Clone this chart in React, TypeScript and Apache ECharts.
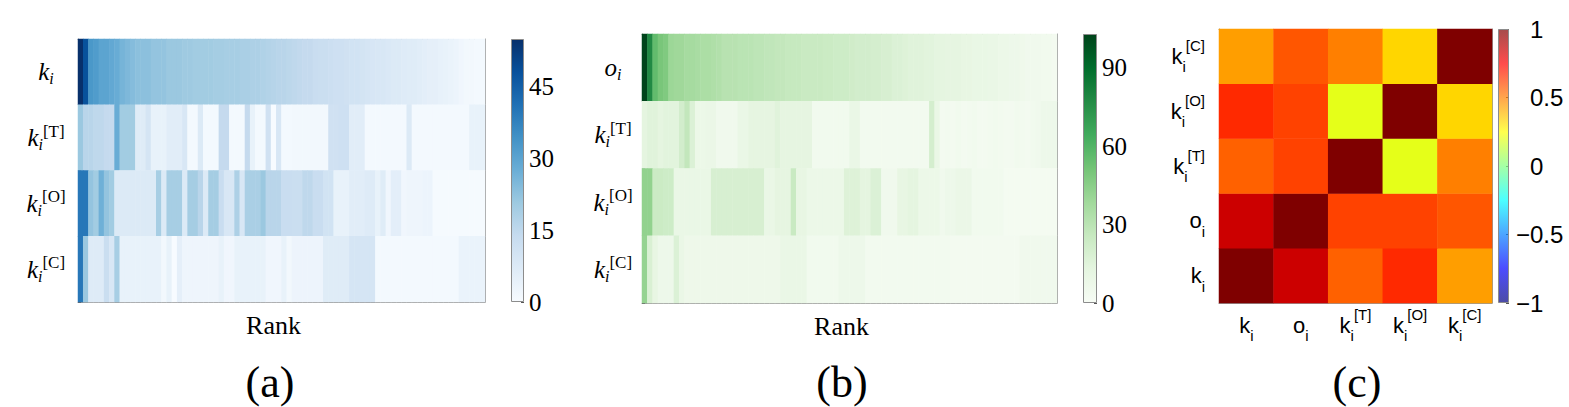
import React, { useEffect, useRef } from 'react';
import * as echarts from 'echarts';

const SERIF = "'Liberation Serif', 'DejaVu Serif', serif";
const SANS = "'Liberation Sans', Arial, sans-serif";

// ---------- Panel (a): degree heat map ----------
const rowsA = ['k', 'kT', 'kO', 'kC'];
const aK = [55, 48, 33, 32, 30, 30, 29, 28, 26, 25,
  24, 23, 23, 23, 22, 22, 22, 21, 21, 21,
  20.5, 20.5, 20, 20, 20, 20, 19.5, 19.5, 19, 19,
  19, 18.5, 18.5, 18, 18, 17.5, 17, 16.5, 16, 16,
  15.5, 15, 14.5, 14, 14, 13, 12.5, 12.5, 12, 11.5,
  11.5, 11, 10.5, 10.5, 10, 9.5, 9, 8.5, 8.5, 8,
  7.5, 7.5, 7, 6.5, 6.5, 6, 5.5, 5, 5, 4.5,
  4, 3.5, 3, 2, 1.5, 1.5, 1, 1];
const aKT = [21, 16, 16, 15, 15, 14, 14, 28, 20, 20,
  20, 6.5, 6.5, 9.5, 4, 4, 4, 6, 6, 6,
  8.5, 1, 1, 7.5, 1, 1, 1, 14, 14, 1,
  1, 1, 14, 4, 1, 1, 11, 0, 8.5, 1,
  1, 1.5, 1.5, 1.5, 1.5, 1.5, 1.5, 1.5, 11, 11,
  11.5, 11.5, 6, 6, 6, 1, 1, 1, 1, 1,
  1, 1, 1, 7.5, 1, 1, 1, 1, 1, 1,
  1, 1, 1, 1, 1, 4, 4, 4];
const aKO = [40, 40, 22, 20, 27, 22, 20, 7.5, 7.5, 7.5,
  7.5, 7.5, 7.5, 7.5, 7.5, 19, 7.5, 19, 19, 19,
  7.5, 19.5, 19.5, 16, 7.5, 19.5, 19.5, 13, 8.5, 8.5,
  18, 8.5, 18.5, 18.5, 18.5, 21, 16, 16, 16, 13,
  13, 12.5, 12.5, 15, 15, 13, 13, 10.5, 10.5, 4,
  4, 4, 6, 6, 6, 7, 7, 4, 6.5, 2,
  5.5, 5.5, 2, 2.5, 2.5, 2.5, 3, 3, 0.5, 0.5,
  0.5, 0.5, 0.5, 0.5, 0.5, 0.5, 0.5, 0.5];
const aKC = [40, 21, 7, 7, 7, 12.5, 8.5, 19, 4, 4,
  4, 4, 4, 4, 4, 4, 1.5, 4, 0, 5,
  2.5, 2.5, 2.5, 2.5, 2.5, 2.5, 2.5, 4, 2, 2,
  4, 4, 4, 4, 4, 4, 2, 2, 2, 4,
  1.5, 2.8, 2.8, 2.8, 2.8, 2.8, 2.8, 6.5, 6.5, 6.5,
  6.5, 6.5, 9.5, 9.5, 9.5, 9.5, 9.5, 1, 1, 1,
  1, 1, 1, 1, 1, 1, 1, 1, 1, 1,
  1, 1, 1, 3.5, 3.5, 3.5, 3.5, 3.5];
const maxA = 55;
const ticksA = 15;

// ---------- Panel (b): strength heat map ----------
const rowsB = ['o', 'kT', 'kO', 'kC'];
const bO = [103, 78, 56, 50, 48, 40, 39, 39, 37, 37,
  36, 35, 35, 34, 33, 31, 31, 31, 30, 30,
  30, 29, 29, 28, 28, 27, 27, 26, 26, 26,
  25, 25, 25, 25, 24, 24, 23, 23, 23, 22,
  21, 21, 21, 20, 20, 19, 19, 17, 17, 16,
  15, 15, 15, 14, 14, 13, 13, 12, 12, 12,
  11, 11, 10, 10, 10, 9, 9, 8, 8, 7,
  7, 6, 5, 5, 5, 4, 4, 3];
const bKT = [13, 15, 15, 13, 14, 14, 14, 21, 27, 17,
  8, 8, 8.5, 8.5, 5, 5, 5, 5, 9, 9,
  12, 12, 12, 12, 12, 15, 12, 12, 12, 12,
  12, 12, 4, 4, 4, 4, 4, 4, 4, 9,
  9, 3.5, 3.5, 3.5, 3.5, 3.5, 3.5, 3.5, 3.5, 3.5,
  3.5, 3.5, 3.5, 3.5, 20, 9, 3, 3.5, 3, 4,
  3, 3.5, 4, 3, 3, 3.5, 4, 3.5, 3, 3,
  4, 3.5, 3, 4.5, 5, 7, 7, 7];
const bKO = [43, 43, 24, 24, 23, 23, 9, 9, 9, 9,
  9, 9, 9, 19, 19, 19, 19, 19, 19, 19,
  19, 19, 19, 9, 9, 12, 12, 12, 25, 11,
  11, 8, 8, 8, 8, 8, 8, 8, 16, 16,
  16, 13, 13, 17, 17, 5, 5, 5, 11, 11,
  13, 13, 8, 8, 8, 8, 5, 7, 7, 8.5,
  8.5, 8.5, 4, 4, 4, 4, 4, 4, 2.5, 2.5,
  2.5, 2.5, 2.5, 2.5, 2.5, 2.5, 2.5, 2.5];
const bKC = [42, 18, 11, 7, 7, 7, 17, 9, 6.5, 6.5,
  6.5, 6.5, 6.5, 6.5, 6.5, 6.5, 6.5, 6.5, 6.5, 6.5,
  6.5, 6.5, 6.5, 6.5, 6.5, 6.5, 9, 9, 9, 9,
  9, 4.5, 4.5, 4.5, 4.5, 4.5, 4.5, 7, 7, 7,
  7, 7, 3.5, 3.5, 3.5, 3.5, 3.5, 3.5, 3.5, 3.5,
  3.5, 3.5, 3.5, 3.5, 3.5, 3.5, 3.5, 3.5, 3, 3,
  3, 3, 3, 3, 3, 3, 3, 3, 3, 3,
  3, 5, 5, 5, 5, 5, 5, 5];
const maxB = 103;
const ticksB = 30;

// ---------- Panel (c): correlation matrix ----------
const corrLabels = ['k', 'o', 'kT', 'kO', 'kC'];
const corrMatrix = [
  [1.0, 0.85, 0.56, 0.67, 0.44],
  [0.85, 1.0, 0.62, 0.62, 0.58],
  [0.56, 0.62, 1.0, 0.2, 0.5],
  [0.67, 0.62, 0.2, 1.0, 0.33],
  [0.44, 0.58, 0.5, 0.33, 1.0],
];

const ranks = aK.map((_, i) => String(i + 1));

const BLUES = ['#f7fbff', '#deebf7', '#c6dbef', '#9ecae1', '#6baed6', '#4292c6', '#2171b5', '#08519c', '#08306b'];
const GREENS = ['#f7fcf5', '#e5f5e0', '#c7e9c0', '#a1d99b', '#74c476', '#41ab5d', '#238b45', '#006d2c', '#00441b'];
const JET = ['#00007f', '#0000ff', '#007fff', '#00ffff', '#7fff7f', '#ffff00', '#ff7f00', '#ff0000', '#7f0000'];

const hexToRgba = (h: string, a: number) => {
  const r = parseInt(h.slice(1, 3), 16);
  const g = parseInt(h.slice(3, 5), 16);
  const b = parseInt(h.slice(5, 7), 16);
  return `rgba(${r},${g},${b},${a})`;
};
const gradient = (cols: string[], alpha = 1) =>
  new echarts.graphic.LinearGradient(0, 1, 0, 0,
    cols.map((c, i) => ({ offset: i / (cols.length - 1), color: alpha < 1 ? hexToRgba(c, alpha) : c })));

const serifLabels: Record<string, string> = {
  k: '{it|k}{sub|i}',
  o: '{it|o}{sub|i}',
  kT: '{it|k}{sub|i}{sup|[T]}',
  kO: '{it|k}{sub|i}{sup|[O]}',
  kC: '{it|k}{sub|i}{sup|[C]}',
};
const serifRich = {
  it: { fontFamily: SERIF, fontStyle: 'italic', fontSize: 25, lineHeight: 30, color: '#000' },
  sub: { fontFamily: SERIF, fontStyle: 'italic', fontSize: 16, lineHeight: 16, verticalAlign: 'bottom', color: '#000' },
  sup: { fontFamily: SERIF, fontSize: 17, lineHeight: 20, verticalAlign: 'top', color: '#000' },
};
const sansLabels: Record<string, string> = {
  k: '{m|k}{sub|i}',
  o: '{m|o}{sub|i}',
  kT: '{m|k}{sub|i}{sup|[T]}',
  kO: '{m|k}{sub|i}{sup|[O]}',
  kC: '{m|k}{sub|i}{sup|[C]}',
};
const sansRich = {
  m: { fontFamily: SANS, fontSize: 22, lineHeight: 36, color: '#000' },
  sub: { fontFamily: SANS, fontSize: 15, lineHeight: 15, verticalAlign: 'bottom', color: '#000' },
  sup: { fontFamily: SANS, fontSize: 15, lineHeight: 20, verticalAlign: 'top', color: '#000' },
};

const BORDER = '#999';

function heatData(rows: number[][]) {
  const out: number[][] = [];
  rows.forEach((row, r) => row.forEach((v, c) => out.push([c, r, v])));
  return out;
}

export default function App() {
  const ref = useRef<HTMLDivElement>(null);
  useEffect(() => {
    if (!ref.current) return;
    const chart = echarts.init(ref.current, undefined, { renderer: 'svg' });

    const lineOnly = (gridIndex: number, data: string[], position: string, inverse = false) => ({
      type: 'category', gridIndex, data, position, inverse,
      axisLine: { show: true, lineStyle: { color: BORDER, width: 1 } },
      axisTick: { show: false }, axisLabel: { show: false }, splitLine: { show: false },
    });

    const rankAxis = (gridIndex: number) => ({
      type: 'category', gridIndex, data: ranks, position: 'bottom',
      axisLine: { show: true, lineStyle: { color: BORDER, width: 1 } },
      axisTick: { show: false }, axisLabel: { show: false },
      name: 'Rank', nameLocation: 'middle', nameGap: 10,
      nameTextStyle: { fontFamily: SERIF, fontSize: 26, color: '#000', padding: [0, 16, 0, 0] },
    });

    const rowAxis = (gridIndex: number, data: string[], margin: number) => ({
      type: 'category', gridIndex, data, inverse: true, position: 'left',
      axisLine: { show: true, lineStyle: { color: BORDER, width: 1 } },
      axisTick: { show: true, inside: true, length: 3, lineStyle: { color: '#666' } },
      axisLabel: { align: 'center', margin, interval: 0, formatter: (v: string) => serifLabels[v], rich: serifRich },
    });

    const hiddenCat = (gridIndex: number) => ({ type: 'category', gridIndex, data: [''], show: false });
    const hiddenVal = (gridIndex: number) => ({ type: 'value', gridIndex, min: 0, max: 1, show: false });
    const barTickAxis = (gridIndex: number, min: number, max: number, interval: number, labelStyle: any) => ({
      type: 'value', gridIndex, min, max, interval, position: 'right',
      axisLine: { show: false },
      axisTick: { show: true, inside: true, length: 3, lineStyle: { color: '#555' } },
      splitLine: { show: false },
      axisLabel: { margin: 5, showMaxLabel: max % interval === 0, ...labelStyle },
    });

    const colorBar = (xi: number, yi: number, cols: string[], alpha = 1) => ({
      type: 'bar', xAxisIndex: xi, yAxisIndex: yi, data: [1], barWidth: '100%',
      silent: true,
      itemStyle: { color: gradient(cols, alpha), borderColor: '#8c8c8c', borderWidth: 1 },
    });

    const titleText = (x: number, text: string) => ({
      type: 'text', x, y: 382,
      style: { text, fontFamily: SERIF, fontSize: 44, fill: '#000', align: 'center', verticalAlign: 'middle' },
    });

    const option: any = {
      animation: false,
      backgroundColor: '#fff',
      grid: [
        { left: 78, top: 39, width: 407, height: 263 },
        { left: 511, top: 39, width: 13, height: 263 },
        { left: 642, top: 34, width: 415, height: 269 },
        { left: 1083, top: 34, width: 14, height: 269 },
        { left: 1219, top: 29, width: 273, height: 274 },
        { left: 1498, top: 29, width: 11, height: 274 },
      ],
      xAxis: [
        rankAxis(0),
        lineOnly(0, ranks, 'top'),
        hiddenCat(1),
        rankAxis(2),
        lineOnly(2, ranks, 'top'),
        hiddenCat(3),
        {
          type: 'category', gridIndex: 4, data: corrLabels, position: 'bottom',
          axisLine: { show: true, lineStyle: { color: BORDER, width: 1 } },
          axisTick: { show: false },
          axisLabel: { margin: 4, interval: 0, formatter: (v: string) => sansLabels[v], rich: sansRich },
        },
        lineOnly(4, corrLabels, 'top'),
        hiddenCat(5),
      ],
      yAxis: [
        rowAxis(0, rowsA, 32),
        lineOnly(0, rowsA, 'right', true),
        hiddenVal(1),
        barTickAxis(1, 0, maxA, ticksA, { fontFamily: SERIF, fontSize: 25, color: '#000' }),
        rowAxis(2, rowsB, 29),
        lineOnly(2, rowsB, 'right', true),
        hiddenVal(3),
        barTickAxis(3, 0, maxB, ticksB, { fontFamily: SERIF, fontSize: 25, color: '#000' }),
        {
          type: 'category', gridIndex: 4, data: corrLabels, position: 'left',
          axisLine: { show: true, lineStyle: { color: BORDER, width: 1 } },
          axisTick: { show: false },
          axisLabel: { margin: 14, interval: 0, formatter: (v: string) => sansLabels[v], rich: sansRich },
        },
        lineOnly(4, corrLabels, 'right'),
        hiddenVal(5),
        barTickAxis(5, -1, 1, 0.5, {
          fontFamily: SANS, fontSize: 24, color: '#000', margin: 7,
          formatter: (v: number) => (v < 0 ? '\u2212' + String(Math.abs(v)) : '{h|\u2212}' + String(v)),
          rich: { h: { fontFamily: SANS, fontSize: 24, color: 'rgba(0,0,0,0)' } },
        }),
      ],
      visualMap: [
        { type: 'continuous', seriesIndex: 0, min: 0, max: maxA, show: false, inRange: { color: BLUES } },
        { type: 'continuous', seriesIndex: 2, min: 0, max: maxB, show: false, inRange: { color: GREENS } },
        { type: 'continuous', seriesIndex: 4, min: -1, max: 1, show: false, inRange: { color: JET } },
      ],
      series: [
        { type: 'heatmap', xAxisIndex: 0, yAxisIndex: 0, data: heatData([aK, aKT, aKO, aKC]), silent: true },
        colorBar(2, 2, BLUES),
        { type: 'heatmap', xAxisIndex: 3, yAxisIndex: 4, data: heatData([bO, bKT, bKO, bKC]), silent: true },
        colorBar(5, 6, GREENS),
        { type: 'heatmap', xAxisIndex: 6, yAxisIndex: 8, data: heatData(corrMatrix), silent: true },
        colorBar(8, 10, JET, 0.7),
      ],
      graphic: [
        titleText(270, '(a)'),
        titleText(842, '(b)'),
        titleText(1357, '(c)'),
      ],
    };
    chart.setOption(option);
    return () => chart.dispose();
  }, []);
  return <div ref={ref} style={{ position: 'fixed', left: 0, top: 0, width: 1569, height: 407, background: '#fff' }} />;
}
